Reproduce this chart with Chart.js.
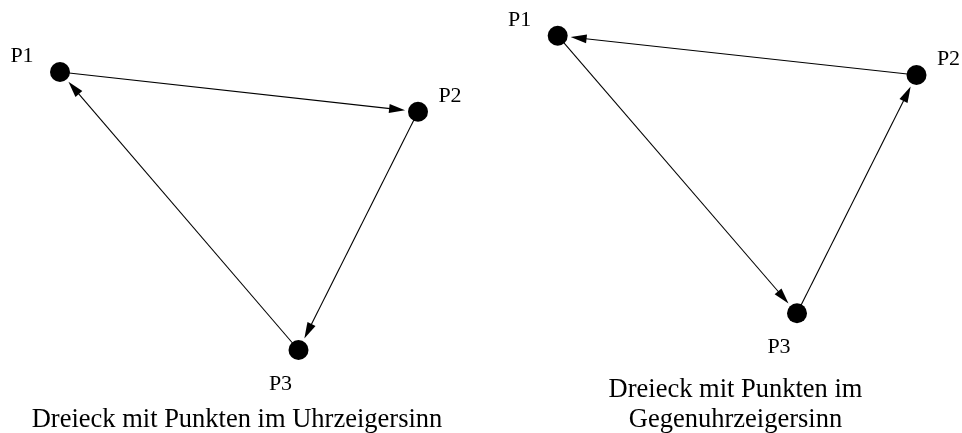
<!DOCTYPE html>
<html>
<head>
<meta charset="utf-8">
<script src="https://cdn.jsdelivr.net/npm/chart.js@4"></script>
<style>
  html, body { margin: 0; padding: 0; background: #fff; }
  #wrap { width: 962px; height: 433px; position: relative; }
</style>
</head>
<body>
<div id="wrap"><canvas id="chart"></canvas></div>
<script>
// point names
const pointNames = ['P1', 'P2', 'P3'];

// triangle with points clockwise
const cwX = [60, 418, 298.5];
const cwY = [72, 111.7, 350];
const cwOrder = [0, 1, 2, 0];

// triangle with points counter-clockwise
const ccwX = [557.7, 916.5, 797];
const ccwY = [35.7, 75, 313.3];
const ccwOrder = [0, 2, 1, 0];

// captions under each triangle
const cwCaption = ['Dreieck mit Punkten im Uhrzeigersinn'];
const ccwCaption = ['Dreieck mit Punkten im', 'Gegenuhrzeigersinn'];

function toPoints(xs, ys) {
  return xs.map((x, i) => ({ x: x, y: ys[i] }));
}

// arrows, point labels and captions
const diagramPlugin = {
  id: 'diagram',
  beforeDatasetsDraw(chart, args, opts) {
    const ctx = chart.ctx;
    const xs = chart.scales.x, ys = chart.scales.y;
    chart.data.datasets.forEach(ds => {
      const pts = ds.data.map(p => [xs.getPixelForValue(p.x), ys.getPixelForValue(p.y)]);
      for (let i = 0; i < ds.order_.length - 1; i++) {
        const a = pts[ds.order_[i]], b = pts[ds.order_[i + 1]];
        const dx = b[0] - a[0], dy = b[1] - a[1];
        const len = Math.sqrt(dx * dx + dy * dy);
        const ux = dx / len, uy = dy / len;
        const tx = b[0] - ux * opts.gap, ty = b[1] - uy * opts.gap;
        ctx.save();
        ctx.strokeStyle = '#000';
        ctx.lineWidth = 1.1;
        ctx.beginPath();
        ctx.moveTo(a[0], a[1]);
        ctx.lineTo(tx - ux * opts.headLen * 0.8, ty - uy * opts.headLen * 0.8);
        ctx.stroke();
        // arrow head
        const bx = tx - ux * opts.headLen, by = ty - uy * opts.headLen;
        ctx.fillStyle = '#000';
        ctx.beginPath();
        ctx.moveTo(tx, ty);
        ctx.lineTo(bx - uy * opts.headW, by + ux * opts.headW);
        ctx.lineTo(bx + uy * opts.headW, by - ux * opts.headW);
        ctx.closePath();
        ctx.fill();
        ctx.restore();
      }
    });
  },
  afterDatasetsDraw(chart, args, opts) {
    const ctx = chart.ctx;
    const xs = chart.scales.x, ys = chart.scales.y;
    ctx.save();
    ctx.fillStyle = '#000';
    ctx.textAlign = 'center';
    ctx.textBaseline = 'alphabetic';
    ctx.font = '22px "Liberation Serif", "Times New Roman", serif';
    chart.data.datasets.forEach(ds => {
      ds.data.forEach((p, i) => {
        const off = opts.labelOffsets[i];
        ctx.fillText(pointNames[i], xs.getPixelForValue(p.x) + off[0], ys.getPixelForValue(p.y) + off[1]);
      });
    });
    ctx.font = '26.5px "Liberation Serif", "Times New Roman", serif';
    cwCaption.forEach((line, i) => ctx.fillText(line, 237, 426.5 + i * 30));
    ccwCaption.forEach((line, i) => ctx.fillText(line, 735.5, 396.5 + i * 30));
    ctx.restore();
  }
};

const cwData = toPoints(cwX, cwY);
const ccwData = toPoints(ccwX, ccwY);

new Chart(document.getElementById('chart'), {
  type: 'scatter',
  data: {
    datasets: [
      { label: 'Uhrzeigersinn', data: cwData, order_: cwOrder,
        pointRadius: 10, pointHoverRadius: 10, backgroundColor: '#000', borderColor: '#000', borderWidth: 0 },
      { label: 'Gegenuhrzeigersinn', data: ccwData, order_: ccwOrder,
        pointRadius: 10, pointHoverRadius: 10, backgroundColor: '#000', borderColor: '#000', borderWidth: 0 }
    ]
  },
  options: {
    responsive: true,
    maintainAspectRatio: false,
    animation: false,
    layout: { padding: 0, autoPadding: false },
    events: [],
    scales: {
      x: { type: 'linear', min: 0, max: 962, display: false },
      y: { type: 'linear', min: 0, max: 433, reverse: true, display: false }
    },
    plugins: {
      legend: { display: false },
      tooltip: { enabled: false },
      diagram: {
        gap: 13,
        headLen: 16,
        headW: 4.5,
        labelOffsets: [[-38, -10], [32, -10], [-18, 40]]
      }
    }
  },
  plugins: [diagramPlugin]
});
</script>
</body>
</html>
